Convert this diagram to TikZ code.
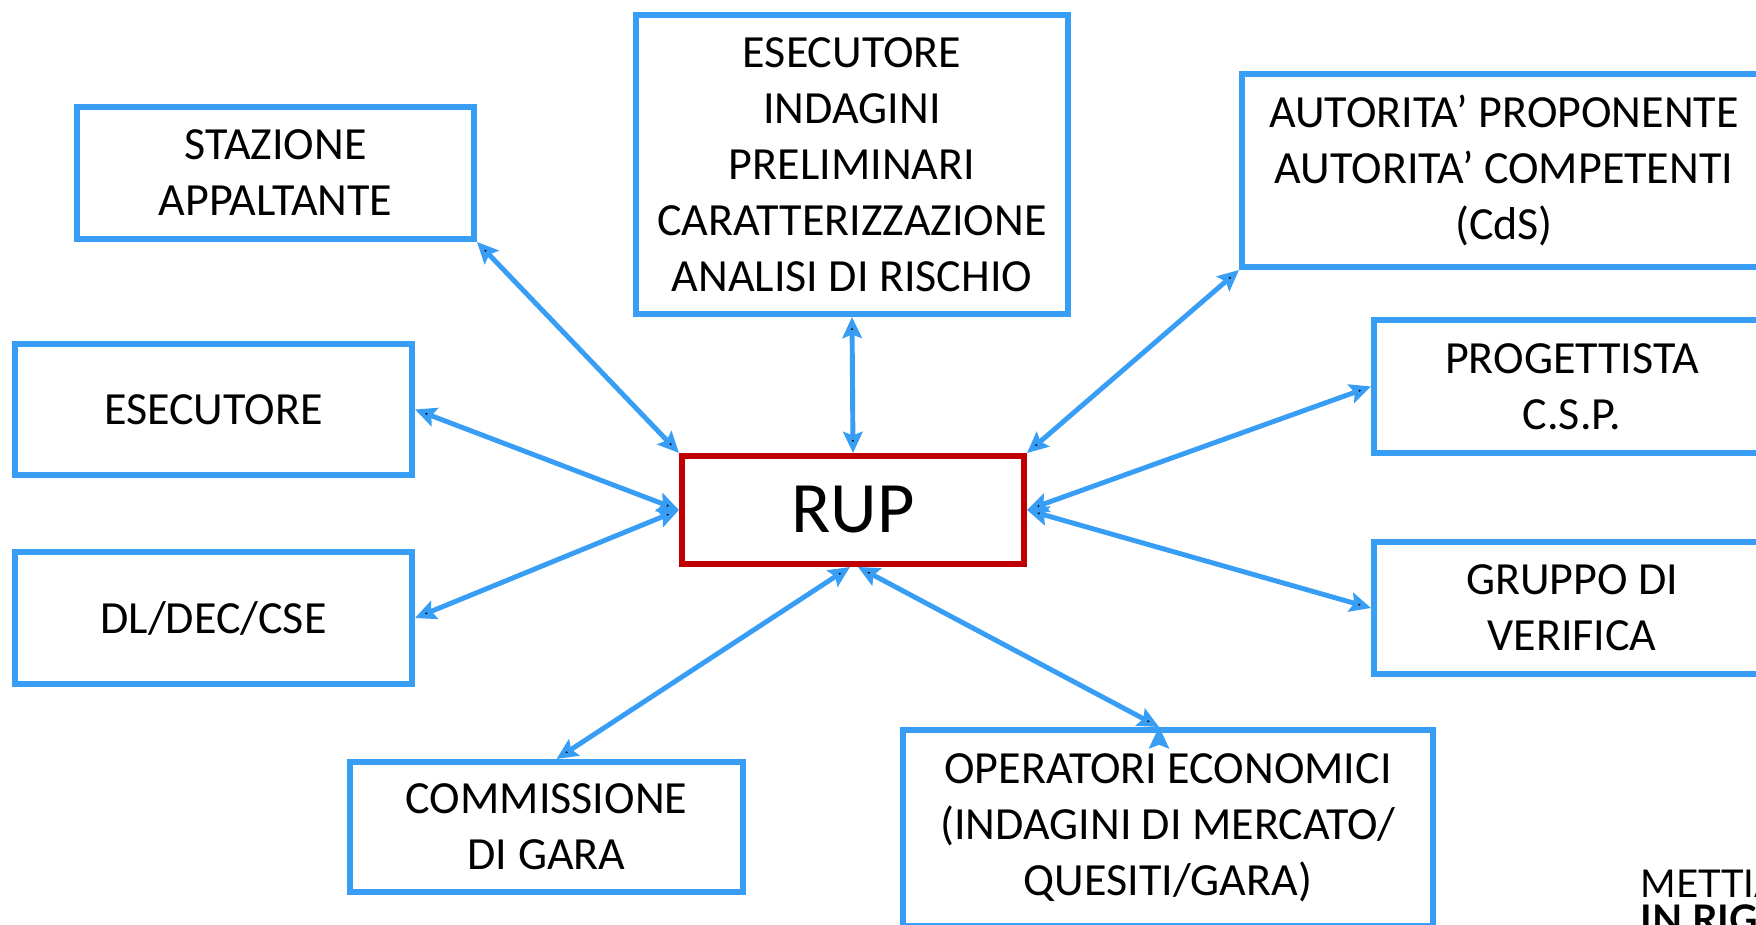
\documentclass[tikz,border=0pt]{standalone}
\usepackage{fontspec}
\setmainfont{Carlito}
\newfontfamily\logofont{Lato}
\usetikzlibrary{arrows.meta,positioning}
\definecolor{boxblue}{HTML}{389DF5}
\definecolor{rupred}{HTML}{C00000}

\begin{document}
\begin{tikzpicture}[x=1cm,y=-1cm,
    role/.style={draw=boxblue,line width=1.7pt,rectangle,inner sep=0pt,align=center,
      font=\fontsize{13.1}{15.9}\selectfont},
    chief/.style={draw=rupred,line width=1.7pt,rectangle,inner sep=0pt,
      font=\fontsize{20.6}{24}\selectfont},
    link/.style={draw=boxblue,line width=1.4pt,
      {Stealth[length=6pt,width=5.5pt,inset=1pt]}-{Stealth[length=6pt,width=5.5pt,inset=1pt]}}]
   \useasboundingbox (0,0) rectangle (17.56,9.25);
   \clip (0,0) rectangle (17.56,9.25);
% Here is where we draw the RUP and every box round it
   \node[chief,minimum width=3.42cm,minimum height=1.08cm] (rup) at (8.53,5.10) {RUP};
   \node[role,minimum width=3.97cm,minimum height=1.32cm] (staz) at (2.755,1.73) {STAZIONE\\APPALTANTE};
   \node[role,minimum width=4.32cm,minimum height=2.99cm] (esecind) at (8.52,1.645)
      {ESECUTORE\\INDAGINI\\PRELIMINARI\\CARATTERIZZAZIONE\\ANALISI DI RISCHIO};
   \node[role,minimum width=5.24cm,minimum height=1.93cm] (autor) at (15.04,1.705)
      {AUTORITA’ PROPONENTE\\AUTORITA’ COMPETENTI\\(CdS)};
   \node[role,minimum width=3.97cm,minimum height=1.31cm] (esec) at (2.135,4.095) {ESECUTORE};
   \node[role,minimum width=3.97cm,minimum height=1.32cm] (dl) at (2.135,6.18) {DL/DEC/CSE};
   \node[role,minimum width=3.96cm,minimum height=1.33cm] (prog) at (15.72,3.865) {PROGETTISTA\\C.S.P.};
   \node[role,minimum width=3.96cm,minimum height=1.32cm] (grup) at (15.72,6.08) {GRUPPO DI\\VERIFICA};
   \node[role,minimum width=3.93cm,minimum height=1.30cm] (comm) at (5.465,8.27) {COMMISSIONE\\DI GARA};
   \node[role,minimum width=5.30cm,minimum height=1.96cm] (oper) at (11.68,8.28)
      {OPERATORI ECONOMICI\\(INDAGINI DI MERCATO/\\QUESITI/GARA)};
% Here is where we draw the two way links to the RUP
   \path[link]
    (staz.south east) edge (rup.north west)
    (esecind.south) edge (rup.north)
    (autor.south west) edge (rup.north east)
    (esec.east) edge (rup.west)
    (dl.east) edge (rup.west)
    (prog.west) edge (rup.east)
    (grup.west) edge (rup.east)
    ([xshift=0.1cm]comm.north) edge ([xshift=-0.03cm]rup.south)
    ([xshift=-0.09cm]oper.north) edge ([xshift=0.05cm]rup.south);
% the logo in the corner
   \node[anchor=base west,inner sep=0pt,font=\logofont\fontsize{10.9}{12}\selectfont] (logoa) at (16.40,8.97) {METTIA};
   \node[anchor=base west,inner sep=0pt,font=\logofont\bfseries\fontsize{11.2}{12}\selectfont] (logob) at (16.40,9.33) {IN RIGA};
\end{tikzpicture}
\end{document}
